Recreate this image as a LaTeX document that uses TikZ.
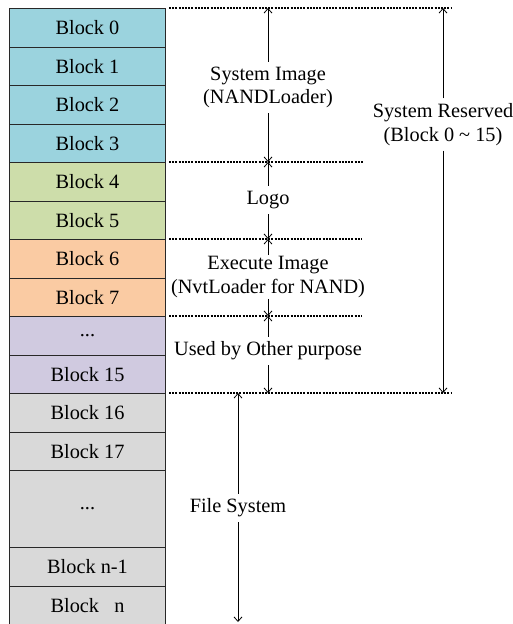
\documentclass[tikz,border=0pt]{standalone}
\usepackage{fontspec}
\setmainfont{Liberation Serif}
\usetikzlibrary{arrows.meta}
\definecolor{cblue}{RGB}{155,211,222}
\definecolor{cgreen}{RGB}{205,221,170}
\definecolor{corange}{RGB}{250,203,163}
\definecolor{cpurple}{RGB}{208,202,224}
\definecolor{cgrey}{RGB}{217,217,217}
\definecolor{cline}{RGB}{40,40,40}
\begin{document}
\begin{tikzpicture}[x=1pt,y=-1pt,
  blk/.style={draw=cline,line width=1pt,minimum width=156pt,minimum height=38.5pt,inner sep=0pt,
    font=\fontsize{20.3pt}{23.5pt}\selectfont},
  lbl/.style={align=center,inner sep=5pt,font=\fontsize{20.3pt}{23.5pt}\selectfont},
  dsh/.style={line width=1.1pt,dash pattern=on 2pt off 1.2pt},
  arr/.style={line width=0.8pt,-{Straight Barb[length=4.5pt,width=8pt]}}]
\useasboundingbox (0,0) rectangle (513,624);
% blocks
\node[blk,fill=cblue,anchor=north west] (b0) at (9,8) {Block 0};
\node[blk,fill=cblue,anchor=north west] (b1) at (9,46.5) {Block 1};
\node[blk,fill=cblue,anchor=north west] (b2) at (9,85) {Block 2};
\node[blk,fill=cblue,anchor=north west] (b3) at (9,123.5) {Block 3};
\node[blk,fill=cgreen,anchor=north west] (b4) at (9,162) {Block 4};
\node[blk,fill=cgreen,anchor=north west] (b5) at (9,200.5) {Block 5};
\node[blk,fill=corange,anchor=north west] (b6) at (9,239) {Block 6};
\node[blk,fill=corange,anchor=north west] (b7) at (9,277.5) {Block 7};
\node[blk,fill=cpurple,anchor=north west] (bd1) at (9,316) {...};
\node[blk,fill=cpurple,anchor=north west] (b15) at (9,354.5) {Block 15};
\node[blk,fill=cgrey,anchor=north west] (b16) at (9,393) {Block 16};
\node[blk,fill=cgrey,anchor=north west] (b17) at (9,431.5) {Block 17};
\node[blk,fill=cgrey,anchor=north west,minimum height=77pt] (bd2) at (9,470) {...};
\node[blk,fill=cgrey,anchor=north west] (bn1) at (9,547) {Block n-1};
\node[blk,fill=cgrey,anchor=north west] (bn) at (9,585.5) {Block~~~n};
% dashed boundaries
\coordinate (d0) at (451,8);
\coordinate (d1) at (363,162);
\coordinate (d2) at (362,239);
\coordinate (d3) at (362,316);
\coordinate (d4) at (451,393);
\draw[dsh] ([xshift=3pt]b0.north east) -- (d0);
\draw[dsh] ([xshift=3pt]b4.north east) -- (d1);
\draw[dsh] ([xshift=3pt]b6.north east) -- (d2);
\draw[dsh] ([xshift=3pt]bd1.north east) -- (d3);
\draw[dsh] ([xshift=3pt]b16.north east) -- (d4);
% labels
\node[lbl] (si) at (268,87.5) {System Image\\(NANDLoader)};
\node[lbl] (logo) at (268,200) {Logo};
\node[lbl,inner sep=1pt] (ex) at (268,277) {Execute Image\\(NvtLoader for NAND)};
\node[lbl] (oth) at (268,351) {Used by Other purpose};
\node[lbl] (fs) at (238,508) {File System};
\node[lbl] (sr) at (443,124.5) {System Reserved\\(Block 0 \char"7E{} 15)};
% arrow end points
\coordinate (a0) at (268,8);
\coordinate (a1) at (268,162);
\coordinate (a2) at (268,239);
\coordinate (a3) at (268,316);
\coordinate (a4) at (268,393);
\coordinate (f0) at (238,393);
\coordinate (f1) at (238,622);
\coordinate (r0) at (443,8);
\coordinate (r1) at (443,393);
% arrows
\draw[arr] (si.north) -- (a0);
\draw[arr] (si.south) -- (a1);
\draw[arr] (logo.north) -- (a1);
\draw[arr] (logo.south) -- (a2);
\draw[arr] (ex.north) -- (a2);
\draw[arr] (ex.south) -- (a3);
\draw[arr] (oth.north) -- (a3);
\draw[arr] (oth.south) -- (a4);
\draw[arr] (fs.north) -- (f0);
\draw[arr] (fs.south) -- (f1);
\draw[arr] (sr.north) -- (r0);
\draw[arr] (sr.south) -- (r1);
\end{tikzpicture}
\end{document}
